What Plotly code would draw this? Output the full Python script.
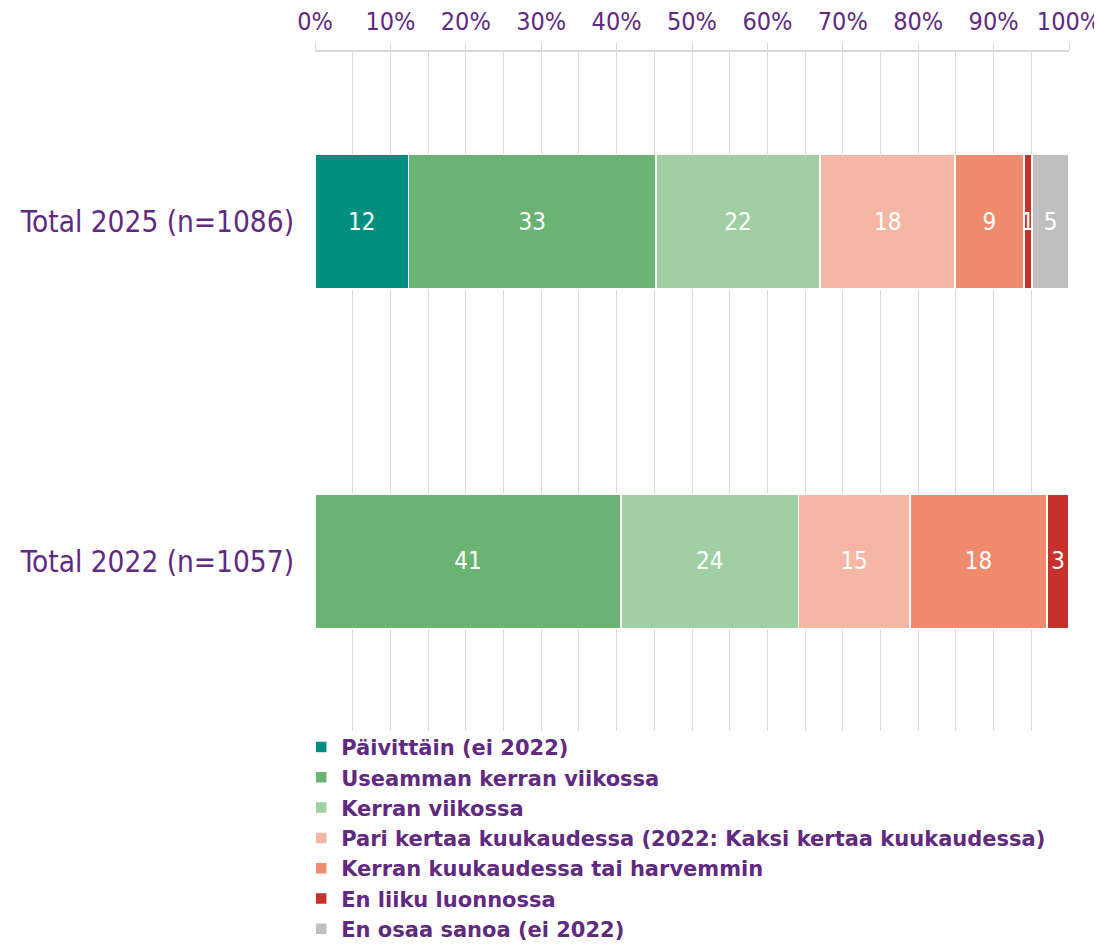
import plotly.graph_objects as go

categories = ["Total 2025 (n=1086)", "Total 2022 (n=1057)"]

series_names = [
    "Päivittäin (ei 2022)",
    "Useamman kerran viikossa",
    "Kerran viikossa",
    "Pari kertaa kuukaudessa (2022: Kaksi kertaa kuukaudessa)",
    "Kerran kuukaudessa tai harvemmin",
    "En liiku luonnossa",
    "En osaa sanoa (ei 2022)",
]

paivittain = [12.4, None]
useamman = [32.8, 40.6]
kerran_viikossa = [21.8, 23.5]
pari_kertaa = [17.9, 14.8]
kerran_kuukaudessa = [9.1, 18.2]
en_liiku = [1.1, 2.9]
en_osaa = [4.9, None]

series_values = [paivittain, useamman, kerran_viikossa, pari_kertaa,
                 kerran_kuukaudessa, en_liiku, en_osaa]

colors = ["#008f7e", "#6bb373", "#a1cfa4", "#f5b6a4", "#f08b6d", "#c8312b", "#bfbfbf"]

tick_vals = list(range(0, 101, 10))
tick_text = [f"{v}%" for v in tick_vals]

PURPLE = "#5f2a7f"
FONT = "DejaVu Sans Condensed, Liberation Sans Narrow, DejaVu Sans, sans-serif"
LEGEND_FONT = "DejaVu Sans, sans-serif"

fig = go.Figure()
for name, vals, col in zip(series_names, series_values, colors):
    fig.add_trace(go.Bar(
        name=name,
        y=categories,
        x=vals,
        orientation="h",
        marker=dict(color=col, line=dict(color="white", width=1.5)),
        texttemplate="%{x:.0f}",
        textposition="inside",
        insidetextanchor="middle",
        textangle=0,
        constraintext="none",
        textfont=dict(color="white", size=24, family=FONT),
        hoverinfo="skip",
    ))

# the page body adds an 8px margin, so the figure is sized 8px smaller
fig.update_layout(
    barmode="stack",
    bargap=0.605,
    width=1094,
    height=936,
    margin=dict(l=307, r=33, t=44, b=213, autoexpand=False),
    plot_bgcolor="white",
    paper_bgcolor="white",
    font=dict(family=FONT, color=PURPLE),
    showlegend=True,
    legend=dict(
        orientation="v",
        xref="container", yref="container",
        x=0.268, xanchor="left",
        y=0.232, yanchor="top",
        traceorder="normal",
        font=dict(size=21, color=PURPLE, family=LEGEND_FONT, weight="bold"),
        itemwidth=30,
        bgcolor="rgba(0,0,0,0)",
    ),
    xaxis=dict(
        side="top",
        range=[0, 100],
        tickvals=tick_vals,
        ticktext=tick_text,
        tickfont=dict(size=25, color=PURPLE),
        showgrid=True,
        gridcolor="#d9d9d9",
        gridwidth=1,
        minor=dict(dtick=5, tick0=0, showgrid=True, gridcolor="#d9d9d9", gridwidth=1),
        showline=True,
        linecolor="#d9d9d9",
        linewidth=1.5,
        ticks="outside",
        ticklen=7,
        tickcolor="#d9d9d9",
        ticklabelstandoff=3,
        zeroline=False,
        automargin=False,
        fixedrange=True,
    ),
    yaxis=dict(
        categoryorder="array",
        categoryarray=categories,
        autorange="reversed",
        tickfont=dict(size=29.5, color=PURPLE),
        ticks="",
        ticklabelstandoff=20,
        showgrid=False,
        automargin=False,
        fixedrange=True,
    ),
)

fig.write_html("out.html")
